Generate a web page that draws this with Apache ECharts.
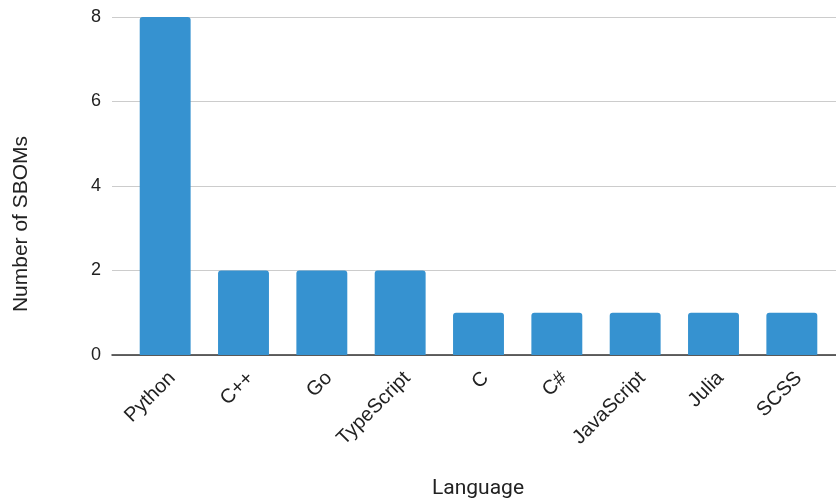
<!DOCTYPE html>
<html>
<head>
<meta charset="utf-8">
<script src="https://cdn.jsdelivr.net/npm/echarts@6/dist/echarts.min.js"></script>
<style>
  html, body { margin: 0; padding: 0; background: #fff; }
  #chart { width: 836px; height: 504px; }
</style>
</head>
<body>
<div id="chart"></div>
<script>
// SBOM counts per language
const languages = ['Python', 'C++', 'Go', 'TypeScript', 'C', 'C#', 'JavaScript', 'Julia', 'SCSS'];
const sbomCounts = [8, 2, 2, 2, 1, 1, 1, 1, 1];
const yTicks = [0, 2, 4, 6, 8];

const chart = echarts.init(document.getElementById('chart'), null, { renderer: 'canvas' });

const yMin = yTicks[0];
const yMax = yTicks[yTicks.length - 1];
const yStep = yTicks[1] - yTicks[0];
const labelFont = '"Liberation Sans", Arial, sans-serif';

chart.setOption({
  animation: false,
  backgroundColor: '#ffffff',
  grid: [
    // frame grid: gridlines and baseline, reaching a bit past the bars
    { left: 112, right: 0, top: 17, bottom: 149 },
    // bar grid
    { left: 126, right: 5, top: 17, bottom: 149 }
  ],
  xAxis: [
    {
      gridIndex: 0, type: 'value', min: 0, max: 1,
      axisLine: { show: true, lineStyle: { color: '#333333', width: 1.5 } },
      axisTick: { show: false }, axisLabel: { show: false }, splitLine: { show: false }
    },
    {
      gridIndex: 1, type: 'category', data: languages,
      axisLine: { show: false }, axisTick: { show: false },
      axisLabel: {
        rotate: 45, interval: 0, margin: 13, verticalAlign: 'top',
        fontFamily: labelFont, fontSize: 20, color: '#222222'
      }
    }
  ],
  yAxis: [
    {
      gridIndex: 0, type: 'value', min: yMin, max: yMax, interval: yStep,
      axisLine: { show: false }, axisTick: { show: false },
      axisLabel: { margin: 11, fontFamily: labelFont, fontSize: 18, color: '#222222' },
      splitLine: { show: true, lineStyle: { color: '#cccccc', width: 1 } }
    },
    {
      gridIndex: 1, type: 'value', min: yMin, max: yMax, interval: yStep,
      show: false, splitLine: { show: false }
    }
  ],
  series: [
    {
      type: 'bar',
      xAxisIndex: 1, yAxisIndex: 1,
      data: sbomCounts,
      barWidth: '65%',
      itemStyle: { color: '#3692d0', borderRadius: [3, 3, 0, 0] },
      z: 1
    }
  ],
  graphic: [
    {
      type: 'text', x: 478, y: 489,
      style: {
        text: 'Language', align: 'center', verticalAlign: 'middle',
        fontFamily: 'Roboto, sans-serif', fontSize: 21, fill: '#222222'
      }
    },
    {
      type: 'text',
      x: 21, y: 224, rotation: Math.PI / 2,
      style: {
        text: 'Number of SBOMs', align: 'center', verticalAlign: 'middle',
        fontFamily: labelFont, fontSize: 21, fill: '#222222'
      }
    }
  ]
});
</script>
</body>
</html>
